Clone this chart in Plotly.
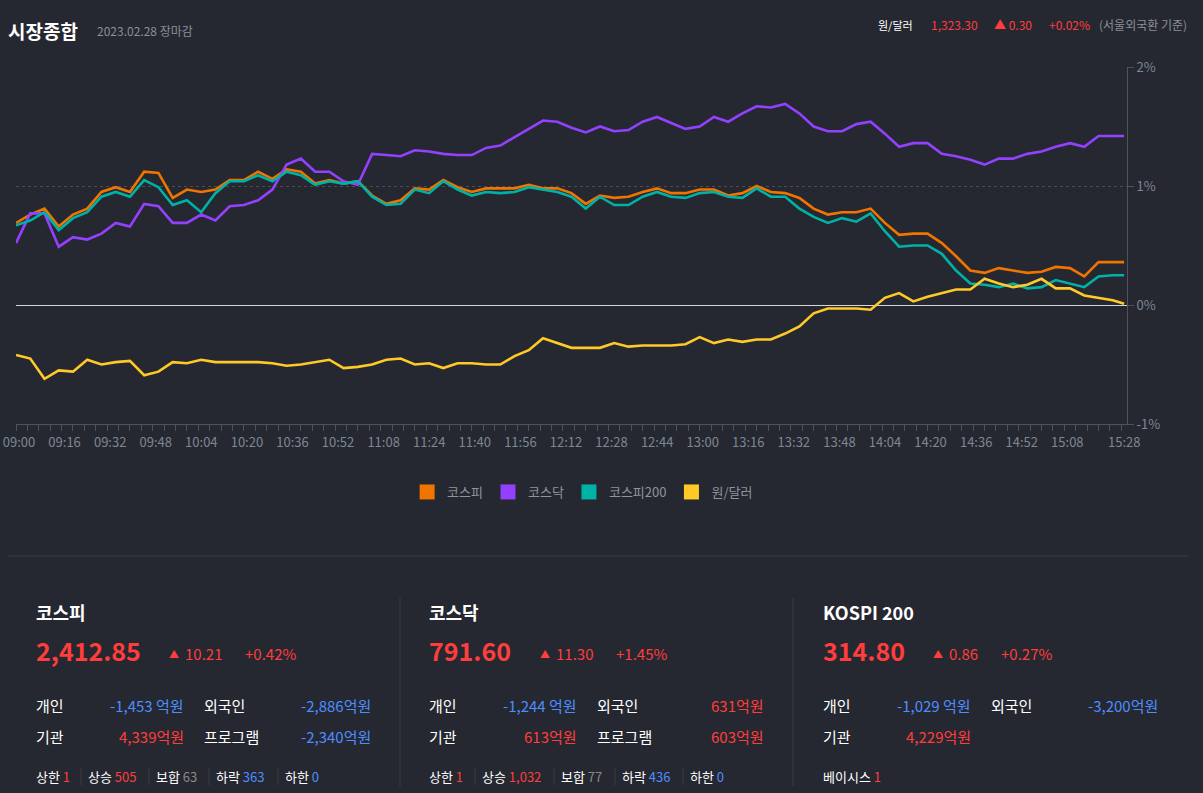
import plotly.graph_objects as go

# --- data (% change vs previous close) ---
DAY = "2023-02-28"
TIMES = [
    "09:00", "09:05", "09:10", "09:15", "09:20", "09:25", "09:30", "09:35", "09:40", "09:45",
    "09:50", "09:55", "10:00", "10:05", "10:10", "10:15", "10:20", "10:25", "10:30", "10:35",
    "10:40", "10:45", "10:50", "10:55", "11:00", "11:05", "11:10", "11:15", "11:20", "11:25",
    "11:30", "11:35", "11:40", "11:45", "11:50", "11:55", "12:00", "12:05", "12:10", "12:15",
    "12:20", "12:25", "12:30", "12:35", "12:40", "12:45", "12:50", "12:55", "13:00", "13:05",
    "13:10", "13:15", "13:20", "13:25", "13:30", "13:35", "13:40", "13:45", "13:50", "13:55",
    "14:00", "14:05", "14:10", "14:15", "14:20", "14:25", "14:30", "14:35", "14:40", "14:45",
    "14:50", "14:55", "15:00", "15:05", "15:10", "15:15", "15:20", "15:25", "15:29",
]
KOSPI = [
    0.69, 0.76, 0.81, 0.66, 0.76, 0.81, 0.95, 0.99, 0.95, 1.12,
    1.11, 0.90, 0.97, 0.95, 0.97, 1.05, 1.05, 1.12, 1.06, 1.14,
    1.12, 1.02, 1.05, 1.02, 1.04, 0.92, 0.85, 0.88, 0.98, 0.97,
    1.05, 0.99, 0.95, 0.98, 0.98, 0.98, 1.01, 0.98, 0.98, 0.94,
    0.85, 0.92, 0.90, 0.91, 0.95, 0.98, 0.94, 0.94, 0.97, 0.97,
    0.92, 0.94, 1.00, 0.95, 0.94, 0.90, 0.81, 0.76, 0.78, 0.78,
    0.81, 0.69, 0.59, 0.60, 0.60, 0.52, 0.41, 0.29, 0.27, 0.31,
    0.29, 0.27, 0.28, 0.32, 0.31, 0.24, 0.36, 0.36, 0.36,
]
KOSDAQ = [
    0.52, 0.77, 0.77, 0.49, 0.57, 0.55, 0.60, 0.69, 0.66, 0.85,
    0.83, 0.69, 0.69, 0.76, 0.71, 0.83, 0.84, 0.88, 0.97, 1.18,
    1.23, 1.12, 1.12, 1.04, 1.01, 1.27, 1.26, 1.25, 1.30, 1.29,
    1.27, 1.26, 1.26, 1.32, 1.34, 1.41, 1.48, 1.55, 1.54, 1.49,
    1.45, 1.50, 1.46, 1.47, 1.54, 1.58, 1.53, 1.48, 1.50, 1.58,
    1.54, 1.61, 1.67, 1.66, 1.69, 1.61, 1.50, 1.46, 1.46, 1.52,
    1.54, 1.44, 1.33, 1.36, 1.36, 1.27, 1.25, 1.22, 1.18, 1.23,
    1.23, 1.27, 1.29, 1.33, 1.36, 1.33, 1.42, 1.42, 1.42,
]
KOSPI200 = [
    0.67, 0.71, 0.78, 0.63, 0.73, 0.78, 0.91, 0.95, 0.91, 1.05,
    0.99, 0.84, 0.88, 0.78, 0.94, 1.04, 1.04, 1.09, 1.04, 1.12,
    1.09, 1.01, 1.04, 1.02, 1.04, 0.91, 0.84, 0.85, 0.97, 0.94,
    1.04, 0.97, 0.92, 0.95, 0.94, 0.95, 0.99, 0.97, 0.95, 0.91,
    0.81, 0.91, 0.84, 0.84, 0.91, 0.95, 0.91, 0.90, 0.94, 0.95,
    0.91, 0.90, 0.98, 0.91, 0.91, 0.81, 0.74, 0.69, 0.73, 0.70,
    0.77, 0.62, 0.49, 0.50, 0.50, 0.43, 0.29, 0.18, 0.17, 0.15,
    0.18, 0.14, 0.15, 0.21, 0.18, 0.15, 0.24, 0.25, 0.25,
]
USDKRW = [
    -0.42, -0.45, -0.62, -0.55, -0.56, -0.46, -0.50, -0.48, -0.47, -0.59,
    -0.56, -0.48, -0.49, -0.46, -0.48, -0.48, -0.48, -0.48, -0.49, -0.51,
    -0.50, -0.48, -0.46, -0.53, -0.52, -0.50, -0.46, -0.45, -0.50, -0.49,
    -0.53, -0.49, -0.49, -0.50, -0.50, -0.43, -0.38, -0.28, -0.32, -0.36,
    -0.36, -0.36, -0.32, -0.35, -0.34, -0.34, -0.34, -0.33, -0.27, -0.32,
    -0.29, -0.31, -0.29, -0.29, -0.24, -0.18, -0.07, -0.03, -0.03, -0.03,
    -0.04, 0.06, 0.10, 0.03, 0.07, 0.10, 0.13, 0.13, 0.22, 0.18,
    0.15, 0.17, 0.22, 0.14, 0.14, 0.08, 0.06, 0.04, 0.01,
]
SERIES_NAMES = ["코스피", "코스닥", "코스피200", "원/달러"]
TICK_LABELS = [
    "09:00", "09:16", "09:32", "09:48", "10:04", "10:20", "10:36", "10:52", "11:08",
    "11:24", "11:40", "11:56", "12:12", "12:28", "12:44", "13:00", "13:16", "13:32",
    "13:48", "14:04", "14:20", "14:36", "14:52", "15:08", "15:28",
]
Y_TICKS = [-1, 0, 1, 2]

# summary panels
PANEL_TITLES = ["코스피", "코스닥", "KOSPI 200"]
PANEL_PRICE = ["2,412.85", "791.60", "314.80"]
PANEL_CHANGE = ["10.21", "11.30", "0.86"]
PANEL_PCT = ["+0.42%", "+1.45%", "+0.27%"]
PANEL_INDIV = [-1453, -1244, -1029]
PANEL_FOREIGN = [-2886, 631, -3200]
PANEL_INST = [4339, 613, 4229]
PANEL_PROGRAM = [-2340, 603, None]

# --- style ---
BG = "#252830"
FONT = "Noto Sans CJK KR, Noto Sans, sans-serif"
RED = "#ff3d3d"
BLUE = "#4d8dff"
GRAY = "#7d8794"
COLORS = ["#f07400", "#9340ff", "#00b2a5", "#ffc928"]
W, H = 1203, 793
ML, MR, MT, MB = 16, 76, 67, 369
PW, PH = W - ML - MR, H - MT - MB


def px(x, y):
    # page pixel -> paper coordinates
    return (x - ML) / PW, 1 - (y - MT) / PH


x_vals = [f"{DAY} {t}" for t in TIMES]
fig = go.Figure()

for name, vals, col in zip(SERIES_NAMES, [KOSPI, KOSDAQ, KOSPI200, USDKRW], COLORS):
    fig.add_trace(go.Scatter(
        x=x_vals, y=vals, mode="lines", name=name, showlegend=False,
        line=dict(color=col, width=2.6), hovertemplate="%{y:.2f}%<extra>" + name + "</extra>",
    ))
# square legend swatches
for name, col in zip(SERIES_NAMES, COLORS):
    fig.add_trace(go.Scatter(
        x=[None], y=[None], mode="markers", name=name,
        marker=dict(symbol="square", size=15, color=col),
    ))

annotations = []
shapes = []


def text(x, y, s, size=13, color="#ffffff", anchor="left", bold=False):
    # small nudge to cancel the annotation box padding
    x = x - 2 if anchor == "left" else x + 3
    ax, ay = px(x, y)
    annotations.append(dict(
        x=ax, y=ay, xref="paper", yref="paper", text=f"<b>{s}</b>" if bold else s,
        showarrow=False, xanchor=anchor, yanchor="middle",
        font=dict(family=FONT, size=size, color=color),
    ))


def hline(x0, x1, y, color="#393c45"):
    a0, b = px(x0, y)
    a1, _ = px(x1, y)
    shapes.append(dict(type="line", xref="paper", yref="paper", x0=a0, x1=a1, y0=b, y1=b,
                       line=dict(color=color, width=1)))


def vline(x, y0, y1, color="#393c45"):
    a, b0 = px(x, y0)
    _, b1 = px(x, y1)
    shapes.append(dict(type="line", xref="paper", yref="paper", x0=a, x1=a, y0=b0, y1=b1,
                       line=dict(color=color, width=1)))


# header
text(8, 31, "시장종합", size=19, bold=True)
text(97, 31, "2023.02.28 장마감", size=12, color="#8a8f98")
text(878, 25, "원/달러", size=11)
text(931, 25, "1,323.30", size=12, color=RED)
text(994, 25, "▲ 0.30", size=12, color=RED)
text(1049, 25, "+0.02%", size=12, color=RED)
text(1099, 25, "(서울외국환 기준)", size=12, color="#8a8f98")

hline(8, 1188, 556)
vline(400, 598, 786)
vline(793, 598, 786)


def amount(v, spaced=False):
    col = RED if v > 0 else BLUE
    unit = " 억원" if spaced else "억원"
    return f"{v:,}{unit}", col


PANEL_X = [36, 429, 823]
ARROW_X = [169, 540, 933]
CHANGE_X = [185, 556, 949]
PCT_X = [245, 616, 1001]
for i, x0 in enumerate(PANEL_X):
    text(x0, 612, PANEL_TITLES[i], size=18, bold=True)
    text(x0, 650, PANEL_PRICE[i], size=25, color=RED, bold=True)
    text(ARROW_X[i], 653, "▲", size=10, color=RED)
    text(CHANGE_X[i], 653, PANEL_CHANGE[i], size=15, color=RED)
    text(PCT_X[i], 653, PANEL_PCT[i], size=15, color=RED)
    text(x0, 705, "개인", size=15)
    s, c = amount(PANEL_INDIV[i], spaced=PANEL_INDIV[i] < 0)
    text(x0 + 147, 705, s, size=15, color=c, anchor="right")
    text(x0 + 168, 705, "외국인", size=15)
    s, c = amount(PANEL_FOREIGN[i])
    text(x0 + 334, 705, s, size=15, color=c, anchor="right")
    text(x0, 736, "기관", size=15)
    s, c = amount(PANEL_INST[i])
    text(x0 + 147, 736, s, size=15, color=c, anchor="right")
    if PANEL_PROGRAM[i] is not None:
        text(x0 + 168, 736, "프로그램", size=15)
        s, c = amount(PANEL_PROGRAM[i])
        text(x0 + 334, 736, s, size=15, color=c, anchor="right")


def counts(x0, items):
    x = x0
    for j, (label, val, col, w) in enumerate(items):
        text(x, 776, f"{label} <span style='color:{col}'>{val}</span>", size=13)
        x += w
        if j < len(items) - 1:
            vline(x - 7, 768, 785)


counts(36, [("상한", "1", RED, 52), ("상승", "505", RED, 68), ("보합", "63", "#8a8a8a", 60),
            ("하락", "363", BLUE, 69), ("하한", "0", BLUE, 40)])
counts(429, [("상한", "1", RED, 53), ("상승", "1,032", RED, 79), ("보합", "77", "#8a8a8a", 61),
             ("하락", "436", BLUE, 68), ("하한", "0", BLUE, 40)])
text(823, 776, f"베이시스 <span style='color:{RED}'>1</span>", size=13)

fig.update_layout(
    width=W, height=H,
    margin=dict(l=ML, r=MR, t=MT, b=MB, autoexpand=False),
    paper_bgcolor=BG, plot_bgcolor=BG,
    font=dict(family=FONT, color=GRAY),
    showlegend=True,
    legend=dict(orientation="h", x=0.51, xanchor="center", y=px(0, 492)[1], yanchor="middle",
                font=dict(size=13, color="#8f949c"), bgcolor="rgba(0,0,0,0)",
                itemwidth=30, itemclick=False, itemdoubleclick=False),
    xaxis=dict(
        type="date", range=[f"{DAY} 09:00", f"{DAY} 15:30"], automargin=False,
        tickvals=[f"{DAY} {t}" for t in TICK_LABELS], ticktext=TICK_LABELS,
        showgrid=False, zeroline=False, showline=True, linecolor="#50535b", linewidth=1,
        ticks="outside", ticklen=6, tickcolor="#50535b",
        minor=dict(dtick=240000, tick0=f"{DAY} 09:00", ticks="outside", ticklen=6,
                   tickcolor="#50535b", showgrid=False),
        tickfont=dict(size=13, color=GRAY), ticklabelshift=3,
    ),
    yaxis=dict(
        side="right", range=[-1, 2], tickvals=Y_TICKS, ticktext=[f"{v}%" for v in Y_TICKS],
        automargin=False,
        showgrid=True, gridcolor="#4a4d56", griddash="dot", gridwidth=1,
        zeroline=True, zerolinecolor="#d6d6d6", zerolinewidth=1,
        showline=True, linecolor="#50535b", linewidth=1,
        ticks="outside", ticklen=6, tickcolor="#50535b",
        tickfont=dict(size=13, color=GRAY),
    ),
    annotations=annotations, shapes=shapes,
)

fig.write_html(
    "out.html",
    config={"displayModeBar": False},
    post_script="document.body.style.margin='0';document.body.style.overflow='hidden';"
                "document.body.style.background='" + BG + "';",
)
